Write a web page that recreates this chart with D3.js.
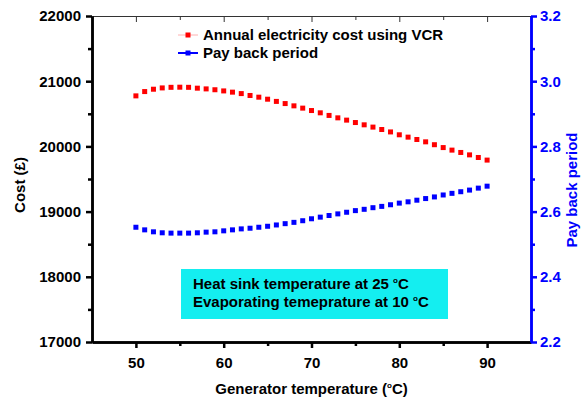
<!DOCTYPE html>
<html>
<head>
<meta charset="utf-8">
<script src="https://cdn.jsdelivr.net/npm/d3@7/dist/d3.min.js"></script>
<style>
  html, body { margin: 0; padding: 0; background: #fff; }
  svg { display: block; }
  text { font-family: "Liberation Sans", Arial, sans-serif; font-weight: bold; }
</style>
</head>
<body>
<svg id="chart" width="581" height="400"></svg>
<script>
// Generator temperature (°C), 50..90 in steps of 1
const generatorTemp = [50,51,52,53,54,55,56,57,58,59,60,61,62,63,64,65,66,67,68,69,70,
                       71,72,73,74,75,76,77,78,79,80,81,82,83,84,85,86,87,88,89,90];

// Annual electricity cost using VCR (£)
const annualCost = [20775,20841,20877,20897,20906,20908,20906,20893,20882,20869,20851,
                    20832,20810,20781,20755,20724,20690,20657,20622,20587,20550,
                    20515,20475,20438,20403,20366,20331,20296,20259,20222,20178,
                    20142,20106,20070,20026,19982,19943,19907,19870,19830,19790];

// Pay back period
const paybackPeriod = [2.552,2.544,2.538,2.535,2.534,2.534,2.534,2.535,2.537,2.538,2.541,
                       2.544,2.547,2.549,2.552,2.555,2.559,2.563,2.567,2.572,2.578,
                       2.583,2.588,2.593,2.598,2.603,2.607,2.612,2.616,2.621,2.626,
                       2.630,2.635,2.640,2.645,2.651,2.656,2.661,2.666,2.672,2.678];

const xMajorTicks = [50,60,70,80,90];
const xMinorTicks = [55,65,75,85];
const costMajorTicks = [17000,18000,19000,20000,21000,22000];
const costMinorTicks = [17500,18500,19500,20500,21500];
const paybackMajorTicks = [2.2,2.4,2.6,2.8,3.0,3.2];
const paybackMinorTicks = [2.3,2.5,2.7,2.9,3.1];

const legendLabels = ["Annual electricity cost using VCR", "Pay back period"];
const noteLines = ["Heat sink temperature at 25 ", "Evaporating temeprature at 10 "];

const plot = { left: 92, right: 531, top: 16, bottom: 342 };
const BLUE = "#0000ff", RED = "#ff0000";

const svg = d3.select("#chart");

const x = d3.scaleLinear().domain([45, 95]).range([plot.left, plot.right]);
const yCost = d3.scaleLinear().domain([17000, 22000]).range([plot.bottom, plot.top]);
const yPay = d3.scaleLinear().domain([2.2, 3.2]).range([plot.bottom, plot.top]);

function styleAxis(g, color, width, fontSize) {
  g.select(".domain").attr("stroke", color).attr("stroke-width", width);
  g.selectAll(".tick line").attr("stroke", color).attr("stroke-width", width);
  g.selectAll(".tick text").attr("fill", color).style("font-size", fontSize + "px")
    .style("font-weight", "bold").style("font-family", "'Liberation Sans', Arial, sans-serif");
}

// top frame line with inward ticks
const topMajor = svg.append("g").attr("transform", `translate(0,${plot.top})`)
  .call(d3.axisBottom(x).tickValues(xMajorTicks).tickSize(6).tickSizeOuter(0).tickFormat(""));
styleAxis(topMajor, "#333", 1, 0);
const topMinor = svg.append("g").attr("transform", `translate(0,${plot.top})`)
  .call(d3.axisBottom(x).tickValues(xMinorTicks).tickSize(4).tickSizeOuter(0).tickFormat(""));
styleAxis(topMinor, "#333", 1, 0);

// bottom axis
const botMinor = svg.append("g").attr("transform", `translate(0,${plot.bottom})`)
  .call(d3.axisBottom(x).tickValues(xMinorTicks).tickSize(4).tickSizeOuter(0).tickFormat(""));
styleAxis(botMinor, "#000", 2.5, 0);
const botMajor = svg.append("g").attr("transform", `translate(0,${plot.bottom})`)
  .call(d3.axisBottom(x).tickValues(xMajorTicks).tickSize(6).tickSizeOuter(0).tickPadding(9));
styleAxis(botMajor, "#000", 2.5, 15);

// left cost axis
const leftMinor = svg.append("g").attr("transform", `translate(${plot.left},0)`)
  .call(d3.axisLeft(yCost).tickValues(costMinorTicks).tickSize(4).tickSizeOuter(0).tickFormat(""));
styleAxis(leftMinor, "#000", 2.5, 0);
const leftMajor = svg.append("g").attr("transform", `translate(${plot.left},0)`)
  .call(d3.axisLeft(yCost).tickValues(costMajorTicks).tickSize(6).tickSizeOuter(0)
    .tickPadding(5).tickFormat(d3.format("d")));
styleAxis(leftMajor, "#000", 2.5, 15);

// right payback axis
const rightMinor = svg.append("g").attr("transform", `translate(${plot.right},0)`)
  .call(d3.axisRight(yPay).tickValues(paybackMinorTicks).tickSize(4).tickSizeOuter(0).tickFormat(""));
styleAxis(rightMinor, BLUE, 2.5, 0);
const rightMajor = svg.append("g").attr("transform", `translate(${plot.right},0)`)
  .call(d3.axisRight(yPay).tickValues(paybackMajorTicks).tickSize(6).tickSizeOuter(0)
    .tickPadding(3).tickFormat(d3.format(".1f")));
styleAxis(rightMajor, BLUE, 2.5, 15);

// data markers
const sq = 5;
svg.append("g").selectAll("rect").data(generatorTemp).join("rect")
  .attr("x", (d) => x(d) - sq / 2)
  .attr("y", (d, i) => yCost(annualCost[i]) - sq / 2)
  .attr("width", sq).attr("height", sq).attr("fill", RED);

svg.append("g").selectAll("rect").data(generatorTemp).join("rect")
  .attr("x", (d) => x(d) - sq / 2)
  .attr("y", (d, i) => yPay(paybackPeriod[i]) - sq / 2)
  .attr("width", sq).attr("height", sq).attr("fill", BLUE);

// legend
const legend = svg.append("g");
const legendRows = [
  { label: legendLabels[0], color: RED, line: "#ffb0b0", lw: 1, y: 35 },
  { label: legendLabels[1], color: BLUE, line: BLUE, lw: 2, y: 53 }
];
legendRows.forEach((r) => {
  legend.append("line").attr("x1", 178).attr("x2", 198).attr("y1", r.y).attr("y2", r.y)
    .attr("stroke", r.line).attr("stroke-width", r.lw);
  legend.append("rect").attr("x", 188 - sq / 2).attr("y", r.y - sq / 2)
    .attr("width", sq).attr("height", sq).attr("fill", r.color);
  legend.append("text").attr("x", 203).attr("y", r.y + 5).attr("fill", "#000")
    .style("font-size", "15px").text(r.label);
});

// condition note
const note = svg.append("g");
note.append("rect").attr("x", 181).attr("y", 269).attr("width", 267).attr("height", 50)
  .attr("fill", "#14eef0");
noteLines.forEach((t, i) => {
  const tx = note.append("text").attr("x", 193).attr("y", 289 + i * 17.5)
    .attr("fill", "#000").style("font-size", "15px");
  tx.append("tspan").text(t);
  tx.append("tspan").attr("dy", -6).style("font-size", "8px").text("o");
  tx.append("tspan").attr("dy", 6).text("C");
});

// axis titles
const xt = svg.append("text").attr("x", (plot.left + plot.right) / 2).attr("y", 394)
  .attr("text-anchor", "middle").attr("fill", "#000").style("font-size", "15px");
xt.append("tspan").text("Generator temperature (");
xt.append("tspan").attr("dy", -6).style("font-size", "8px").text("o");
xt.append("tspan").attr("dy", 6).text("C)");

svg.append("text").attr("transform", `translate(25,${(plot.top + plot.bottom) / 2 + 6}) rotate(-90)`)
  .attr("text-anchor", "middle").attr("fill", "#000").style("font-size", "15px")
  .text("Cost (£)");

svg.append("text").attr("transform", "translate(577,190) rotate(-90)")
  .attr("text-anchor", "middle").attr("fill", BLUE).style("font-size", "15px")
  .text("Pay back period");
</script>
</body>
</html>
